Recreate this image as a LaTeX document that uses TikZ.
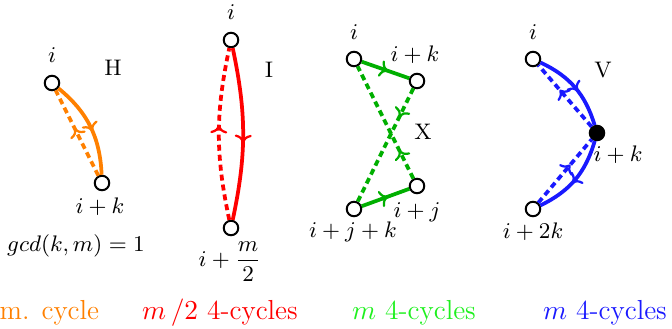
\documentclass[tikz,border=0pt]{standalone}
\usepackage{amsmath}
\usetikzlibrary{arrows.meta, decorations.markings}
\definecolor{hamorange}{RGB}{255,128,0}
\definecolor{halfred}{RGB}{255,0,0}
\definecolor{crossgreen}{RGB}{0,175,0}
\definecolor{crosstext}{RGB}{30,240,30}
\definecolor{veeblue}{RGB}{25,25,255}
\begin{document}
\begin{tikzpicture}[x=0.4pt,y=-0.4pt,
  vertex/.style={circle,draw,line width=0.8pt,fill=white,minimum size=5.8pt,inner sep=0pt},
  hub/.style={vertex,fill=black},
  edge/.style={line width=1.5pt},
  back/.style={edge,dash pattern=on 2.4pt off 1.6pt},
  midarrow/.style={postaction={decorate},
    decoration={markings, mark=at position #1 with {\arrow[solid,line width=0.9pt]{To[length=3.2pt,width=6.8pt]}}}},
  midarrow/.default=0.55,
  lbl/.style={font=\small},
  caption/.style={font=\fontsize{11}{13}\selectfont, anchor=base}]
  \useasboundingbox (0,0) rectangle (672,328);
  % Hamiltonian cycle
  \node[vertex] (h1) at (52,83) {};
  \node[vertex] (h2) at (102,183) {};
  \node[lbl] (h1l) at (52,55) {$i$};
  \node[lbl] (htag) at (113,68) {H};
  \node[lbl] (h2l) at (100,207) {$i+k$};
  \node[lbl] (gcd) at (76,246) {$gcd(k,m)=1$};
  \draw[edge,hamorange,midarrow] (h1) to[bend left=24] (h2);
  \draw[back,hamorange,midarrow] (h2) -- (h1);
  % m/2 4-cycles
  \node[vertex] (a1) at (231,40) {};
  \node[vertex] (a2) at (231,228) {};
  \node[lbl] (a1l) at (231,12) {$i$};
  \node[lbl] (atag) at (269,70) {I};
  \node[lbl] (a2l) at (230,262) {$i+\dfrac{m}{2}$};
  \draw[edge,halfred,midarrow] (a1) to[bend left=12] (a2);
  \draw[back,halfred,midarrow] (a2) to[bend left=12] (a1);
  % crossing 4-cycles
  \node[vertex] (x1) at (354,59) {};
  \node[vertex] (x2) at (417,81) {};
  \node[vertex] (x3) at (417,186) {};
  \node[vertex] (x4) at (354,209) {};
  \node[lbl] (x1l) at (354,32) {$i$};
  \node[lbl] (x2l) at (415,55) {$i+k$};
  \node[lbl] (xtag) at (423,132) {X};
  \node[lbl] (x3l) at (417,212) {$i+j$};
  \node[lbl] (x4l) at (353,232) {$i+j+k$};
  \draw[edge,crossgreen,midarrow] (x1) -- (x2);
  \draw[edge,crossgreen,midarrow] (x4) -- (x3);
  \draw[back,crossgreen,midarrow=0.25] (x2) -- (x4);
  \draw[back,crossgreen,midarrow=0.25] (x3) -- (x1);
  % V-shaped 4-cycles
  \node[vertex] (v1) at (533,59) {};
  \node[hub] (v2) at (597,133) {};
  \node[vertex] (v3) at (533,209) {};
  \node[lbl] (v1l) at (533,32) {$i$};
  \node[lbl] (vtag) at (603,70) {V};
  \node[lbl] (v2l) at (618,155) {$i+k$};
  \node[lbl] (v3l) at (533,232) {$i+2k$};
  \draw[edge,veeblue,midarrow] (v1) to[bend left=24] (v2);
  \draw[edge,veeblue,midarrow] (v2) to[bend left=24] (v3);
  \draw[back,veeblue,midarrow=0.6] (v2) -- (v1);
  \draw[back,veeblue,midarrow=0.6] (v3) -- (v2);
  % captions
  \node[caption,anchor=base east,text=hamorange] (hcap) at (108,319) {Ham. cycle};
  \node[caption,text=halfred] (acap) at (220,319) {$m\,/2$ 4-cycles};
  \node[caption,text=crosstext] (xcap) at (414,319) {$m$ 4-cycles};
  \node[caption,text=veeblue] (vcap) at (605,319) {$m$ 4-cycles};
\end{tikzpicture}
\end{document}
